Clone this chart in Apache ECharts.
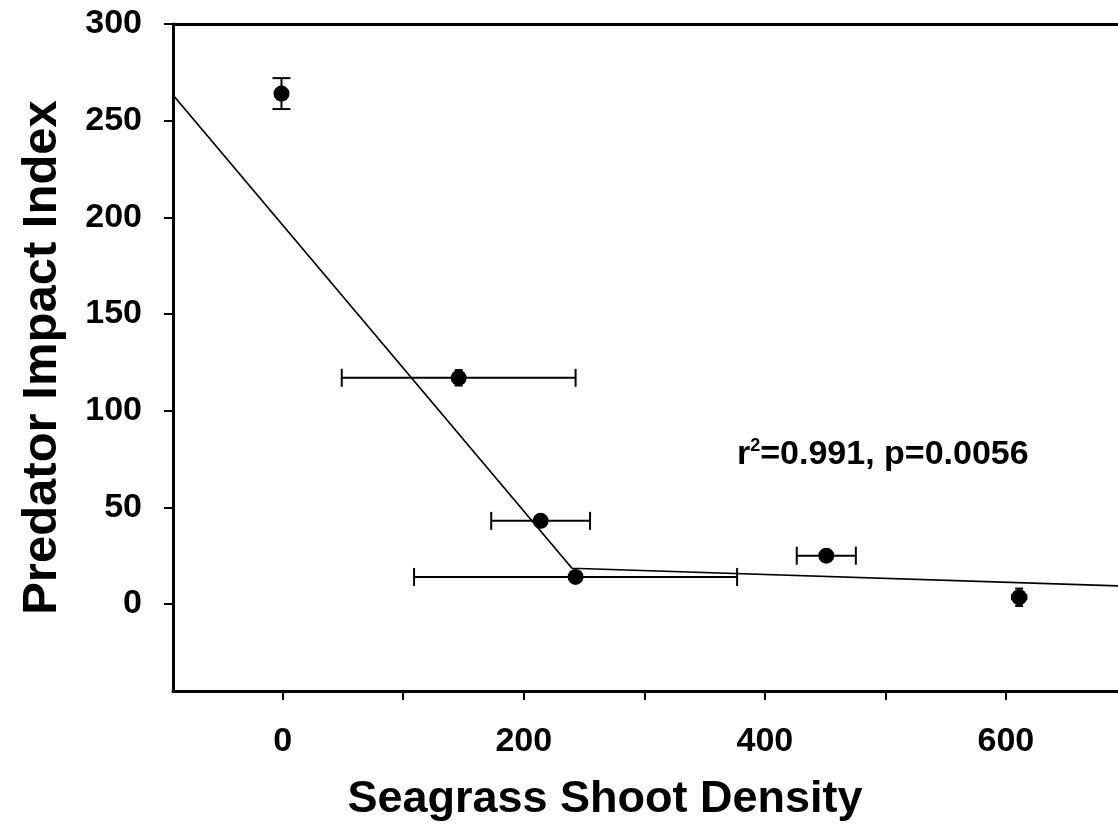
<!DOCTYPE html>
<html>
<head>
<meta charset="utf-8">
<script src="https://cdn.jsdelivr.net/npm/echarts@6/dist/echarts.min.js"></script>
<style>
html,body{margin:0;padding:0;background:#fff;}
#c{width:1118px;height:834px;}
</style>
</head>
<body>
<div id="c"></div>
<script>
// Data
const xVals = [-1, 146, 214, 243, 451, 611];
const yVals = [264, 117, 43, 14, 25, 3.5];
const xErr = [0, 97, 41, 134, 24.5, 6];
const yErr = [8, 4, 2.5, 1.5, 1.5, 4.5];
const fitX = [-91, 240, 693];
const fitY = [263.3, 18.5, 9.4];
const xTickValues = [0, 100, 200, 300, 400, 500, 600];
const xLabelValues = [0, 200, 400, 600];
const yTickValues = [0, 50, 100, 150, 200, 250, 300];
const xTitle = 'Seagrass Shoot Density';
const yTitle = 'Predator Impact Index';
const annotation = ['r', '2', '=0.991, p=0.0056'];

const FONT = '"Liberation Sans", Arial, sans-serif';
const chart = echarts.init(document.getElementById('c'));

const errData = xVals.map((x, i) => [x, yVals[i], xErr[i], yErr[i]]);

const option = {
  animation: false,
  backgroundColor: '#fff',
  grid: { left: 173, top: 24, right: 0, bottom: 143, containLabel: false, outerBoundsMode: 'none' },
  xAxis: [{
    type: 'value', min: -91, max: 693, position: 'bottom',
    splitLine: { show: false },
    axisLine: { show: true, onZero: false, lineStyle: { color: '#000', width: 3 } },
    axisTick: { show: true, customValues: xTickValues, length: 9, inside: false, lineStyle: { color: '#000', width: 2 } },
    axisLabel: { customValues: xLabelValues, margin: 34, color: '#000', fontSize: 34, fontWeight: 'bold', fontFamily: FONT }
  }, {
    type: 'value', min: -91, max: 693, position: 'top',
    splitLine: { show: false },
    axisLine: { show: true, onZero: false, lineStyle: { color: '#000', width: 3 } },
    axisTick: { show: false }, axisLabel: { show: false }
  }],
  yAxis: {
    type: 'value', min: -45, max: 300,
    splitLine: { show: false },
    axisLine: { show: true, onZero: false, lineStyle: { color: '#000', width: 3 } },
    axisTick: { show: true, customValues: yTickValues, length: 9, lineStyle: { color: '#000', width: 2 } },
    axisLabel: { customValues: yTickValues, margin: 31, color: '#000', fontSize: 34, fontWeight: 'bold', fontFamily: FONT },
    name: yTitle, nameLocation: 'middle', nameGap: 106,
    nameTextStyle: { color: '#000', fontSize: 49, fontWeight: 'bold', fontFamily: FONT }
  },
  series: [{
    type: 'line',
    data: fitX.map((x, i) => [x, fitY[i]]),
    symbol: 'none',
    lineStyle: { color: '#000', width: 1.7 },
    z: 2
  }, {
    type: 'custom',
    data: errData,
    z: 3,
    renderItem: function (params, api) {
      const x = api.value(0), y = api.value(1), xe = api.value(2), ye = api.value(3);
      const c = api.coord([x, y]);
      const children = [];
      const st = { stroke: '#000', lineWidth: 2 };
      if (xe > 0) {
        const l = api.coord([x - xe, y]), r = api.coord([x + xe, y]);
        const cap = (r[0] - c[0]) < 12 ? 3 : 9;
        children.push({ type: 'line', shape: { x1: l[0], y1: c[1], x2: r[0], y2: c[1] }, style: st });
        children.push({ type: 'line', shape: { x1: l[0], y1: c[1] - cap, x2: l[0], y2: c[1] + cap }, style: st });
        children.push({ type: 'line', shape: { x1: r[0], y1: c[1] - cap, x2: r[0], y2: c[1] + cap }, style: st });
      }
      if (ye > 0) {
        const t = api.coord([x, y + ye]), b = api.coord([x, y - ye]);
        const cap = (b[1] - c[1]) < 12 ? 4 : 9;
        children.push({ type: 'line', shape: { x1: c[0], y1: t[1], x2: c[0], y2: b[1] }, style: st });
        children.push({ type: 'line', shape: { x1: c[0] - cap, y1: t[1], x2: c[0] + cap, y2: t[1] }, style: st });
        children.push({ type: 'line', shape: { x1: c[0] - cap, y1: b[1], x2: c[0] + cap, y2: b[1] }, style: st });
      }
      return { type: 'group', children: children };
    }
  }, {
    type: 'scatter',
    data: xVals.map((x, i) => [x, yVals[i]]),
    symbol: 'circle', symbolSize: 16,
    itemStyle: { color: '#000', opacity: 1 },
    z: 4
  }],
  graphic: [{
    type: 'text',
    style: {
      x: 605, y: 800, text: xTitle, align: 'center', verticalAlign: 'middle',
      fill: '#000', fontSize: 45, fontWeight: 'bold', fontFamily: FONT
    }
  }, {
    type: 'text',
    style: {
      x: 737, y: 455, verticalAlign: 'middle',
      text: '{a|' + annotation[0] + '}{s|' + annotation[1] + '}{a|' + annotation[2] + '}',
      rich: {
        a: { fontSize: 34, fontWeight: 'bold', fontFamily: FONT, fill: '#000' },
        s: { fontSize: 18, fontWeight: 'bold', fontFamily: FONT, fill: '#000', verticalAlign: 'top', padding: [0, 0, 18, 0] }
      }
    }
  }]
};
chart.setOption(option);
</script>
</body>
</html>
